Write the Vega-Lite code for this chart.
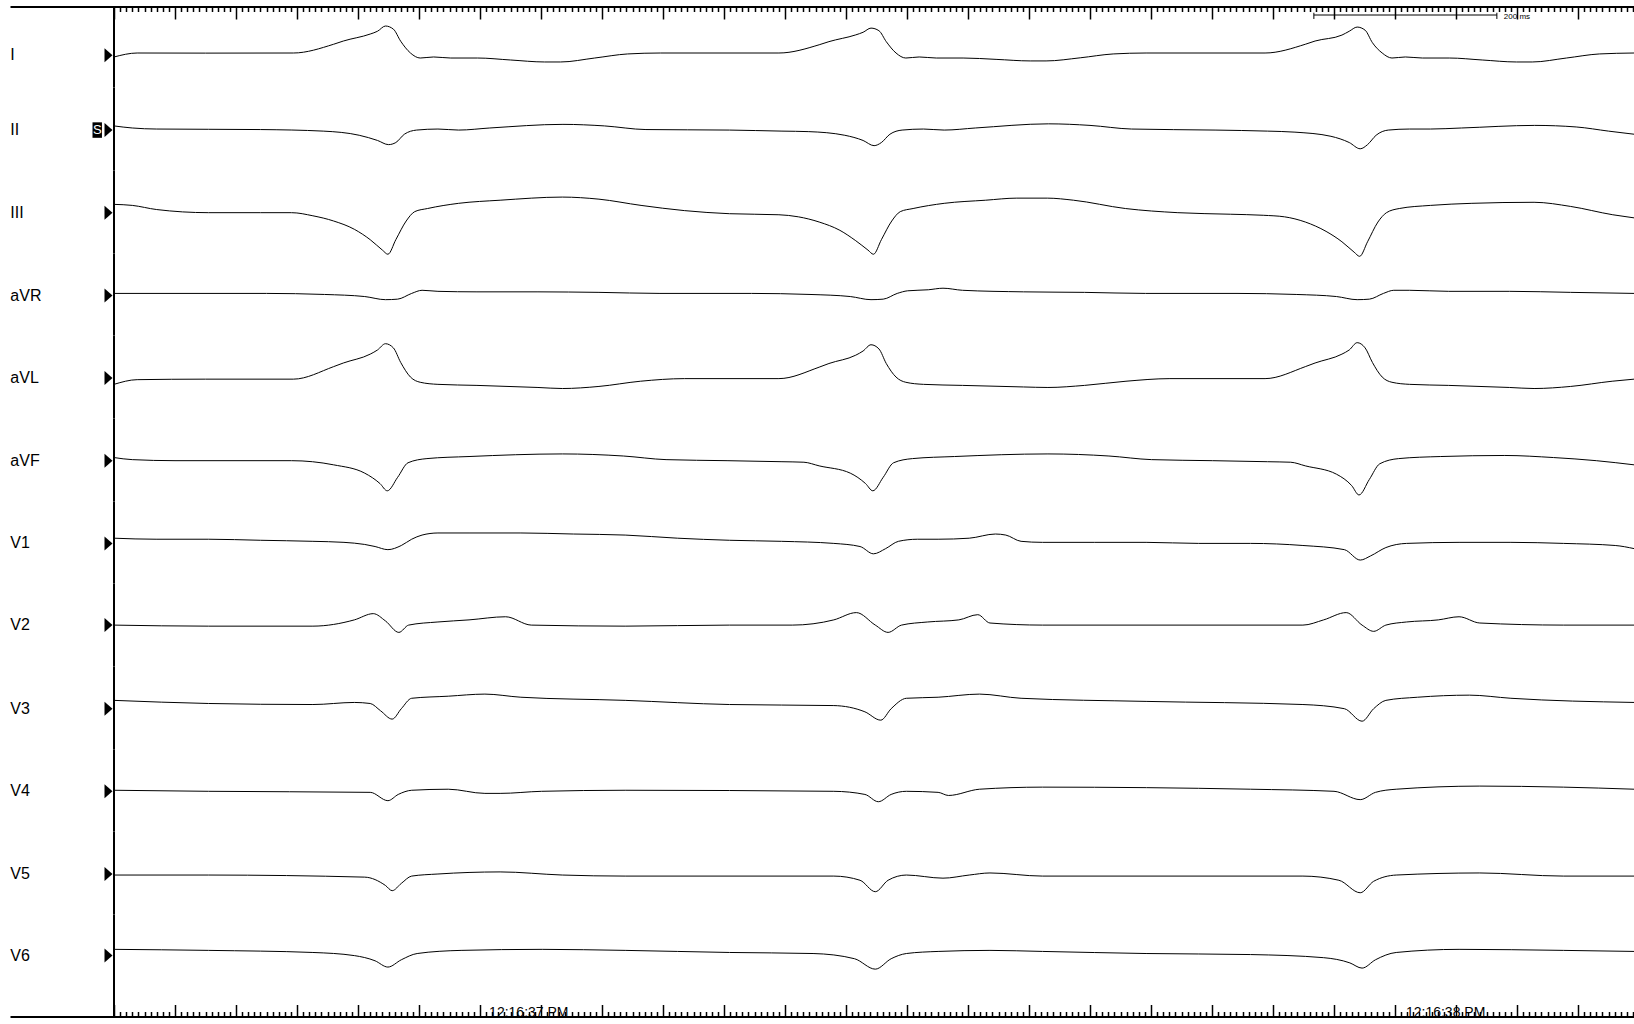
{
"$schema": "https://vega.github.io/schema/vega-lite/v6.json",
"background": "white",
"padding": {"left": 10, "top": 5.5, "right": 0, "bottom": 0},
"spacing": 0,
"bounds": "flush",
"resolve": {"scale": {"x": "independent", "y": "independent"}},
"config": {"view": {"stroke": null}, "text": {"font": "Liberation Sans"}},
"datasets": {
"I": [{"t":0,"v":-1.7},{"t":3.8,"v":2.1},{"t":15,"v":2},{"t":29.4,"v":2.1},{"t":36.0,"v":10.5},{"t":37.6,"v":13.6},{"t":42.0,"v":20.3},{"t":43.2,"v":23},{"t":44.5,"v":28},{"t":45.8,"v":25},{"t":47.0,"v":13.4},{"t":48.6,"v":2.1},{"t":50.2,"v":-2.7},{"t":52.4,"v":-1.7},{"t":55.2,"v":-2.7},{"t":59.6,"v":-2.7},{"t":65.0,"v":-4.6},{"t":70.6,"v":-6.5},{"t":73.2,"v":-6.5},{"t":78.8,"v":-2.7},{"t":84.2,"v":1.2},{"t":89.6,"v":2.1},{"t":109.0,"v":2.1},{"t":115.6,"v":10},{"t":117.2,"v":13},{"t":121.6,"v":19.5},{"t":122.8,"v":22},{"t":124.1,"v":26},{"t":125.4,"v":23.5},{"t":126.6,"v":13},{"t":128.2,"v":2.1},{"t":129.8,"v":-2.7},{"t":132.0,"v":-1.7},{"t":134.8,"v":-2.7},{"t":139.2,"v":-2.7},{"t":144.6,"v":-4},{"t":150.2,"v":-5.5},{"t":152.8,"v":-5.5},{"t":158.4,"v":-2.5},{"t":163.8,"v":1.2},{"t":169.2,"v":2.1},{"t":188.7,"v":2.1},{"t":195.3,"v":10.5},{"t":196.9,"v":13.6},{"t":201.3,"v":19.3},{"t":202.5,"v":23},{"t":203.8,"v":27},{"t":205.1,"v":24},{"t":206.3,"v":12},{"t":207.9,"v":2.1},{"t":209.5,"v":-2.7},{"t":211.7,"v":-1.7},{"t":214.5,"v":-2.7},{"t":218.9,"v":-2.7},{"t":224.3,"v":-4.6},{"t":229.9,"v":-6.5},{"t":232.5,"v":-6.5},{"t":238.1,"v":-2.7},{"t":243.5,"v":1.2},{"t":249.2,"v":2.1}],
"II": [{"t":0,"v":4},{"t":3,"v":2},{"t":7,"v":1},{"t":24,"v":0.5},{"t":34.3,"v":-1},{"t":40.2,"v":-5},{"t":43.2,"v":-10},{"t":45.0,"v":-14},{"t":46.2,"v":-12},{"t":47.6,"v":-4},{"t":49.6,"v":0},{"t":53.1,"v":1},{"t":56.5,"v":0},{"t":61.6,"v":2},{"t":73.6,"v":5.5},{"t":80.4,"v":4},{"t":87.2,"v":0.5},{"t":100.9,"v":0},{"t":109.5,"v":-1},{"t":113.9,"v":-1.5},{"t":119.8,"v":-5},{"t":122.8,"v":-10},{"t":124.6,"v":-15},{"t":125.8,"v":-12},{"t":127.2,"v":-4},{"t":129.2,"v":0},{"t":132.7,"v":1},{"t":136.1,"v":0},{"t":141.2,"v":2},{"t":153.2,"v":6},{"t":160,"v":4.5},{"t":166.8,"v":1},{"t":180.5,"v":0},{"t":189.1,"v":-1},{"t":193.6,"v":-2},{"t":199.5,"v":-6},{"t":202.5,"v":-12},{"t":204.3,"v":-18},{"t":205.5,"v":-14},{"t":206.9,"v":-5},{"t":208.9,"v":0},{"t":212.4,"v":1},{"t":215.8,"v":1},{"t":220.9,"v":2},{"t":232.9,"v":4.5},{"t":239.7,"v":3},{"t":245,"v":-1},{"t":249.2,"v":-4}],
"III": [{"t":0,"v":8},{"t":3,"v":7},{"t":7,"v":3},{"t":15.5,"v":0},{"t":24,"v":0},{"t":29.1,"v":0},{"t":32.6,"v":-3},{"t":36.0,"v":-8},{"t":39.4,"v":-16},{"t":42.0,"v":-26},{"t":44.0,"v":-36},{"t":44.9,"v":-40},{"t":46.2,"v":-26},{"t":47.9,"v":-8},{"t":49.3,"v":1},{"t":51.4,"v":4},{"t":56.5,"v":9},{"t":63.3,"v":12},{"t":73.5,"v":15},{"t":79.5,"v":13},{"t":86.4,"v":7},{"t":93.5,"v":2},{"t":100.9,"v":-1},{"t":109,"v":-2},{"t":112.2,"v":-4},{"t":115.6,"v":-9},{"t":119.0,"v":-17},{"t":121.6,"v":-27},{"t":123.6,"v":-36},{"t":124.5,"v":-40},{"t":125.8,"v":-26},{"t":127.5,"v":-8},{"t":128.9,"v":1},{"t":131.0,"v":4},{"t":136.1,"v":9},{"t":142.9,"v":12},{"t":148,"v":14},{"t":153,"v":14},{"t":157.3,"v":12},{"t":165.8,"v":4},{"t":174.4,"v":0},{"t":183,"v":-1.5},{"t":188.4,"v":-2.5},{"t":191.9,"v":-4},{"t":195.3,"v":-9},{"t":198.7,"v":-18},{"t":201.3,"v":-28},{"t":203.3,"v":-38},{"t":204.2,"v":-42},{"t":205.5,"v":-28},{"t":207.2,"v":-9},{"t":208.6,"v":0},{"t":210.7,"v":4},{"t":215.8,"v":7},{"t":222.6,"v":9},{"t":232.8,"v":10},{"t":238.8,"v":6},{"t":245.7,"v":-2},{"t":249.2,"v":-5}],
"aVR": [{"t":0,"v":2},{"t":10,"v":2},{"t":25,"v":2},{"t":34.5,"v":1},{"t":41.1,"v":-1},{"t":44.5,"v":-4},{"t":46.5,"v":-3.5},{"t":48.8,"v":2},{"t":50.5,"v":5},{"t":53.1,"v":4},{"t":59.5,"v":3.5},{"t":69.5,"v":3.5},{"t":79.5,"v":3},{"t":89.5,"v":2},{"t":104.5,"v":2},{"t":114.1,"v":1},{"t":120.7,"v":-1},{"t":124.1,"v":-4},{"t":126.1,"v":-3.5},{"t":128.4,"v":2},{"t":130.1,"v":4.5},{"t":133.5,"v":5.5},{"t":135.9,"v":7},{"t":139.1,"v":5},{"t":149.1,"v":3.5},{"t":159.1,"v":3},{"t":169.1,"v":2},{"t":184.1,"v":2},{"t":193.8,"v":1},{"t":200.4,"v":-1},{"t":203.8,"v":-4},{"t":205.8,"v":-3.5},{"t":208.1,"v":2},{"t":209.8,"v":5},{"t":212.4,"v":5},{"t":218.8,"v":4},{"t":228.8,"v":4},{"t":238.8,"v":3},{"t":249.2,"v":2}],
"aVL": [{"t":0,"v":-6},{"t":3.8,"v":-1.5},{"t":15,"v":-1},{"t":29.4,"v":-1},{"t":36.0,"v":11},{"t":37.6,"v":14.5},{"t":42.0,"v":23},{"t":43.2,"v":27},{"t":44.5,"v":33},{"t":45.8,"v":29},{"t":47.0,"v":15},{"t":48.6,"v":1},{"t":50.2,"v":-4},{"t":53.1,"v":-6},{"t":59.5,"v":-7},{"t":69.5,"v":-9},{"t":73.5,"v":-10},{"t":79.5,"v":-8},{"t":86.3,"v":-3},{"t":93.5,"v":-0.5},{"t":109.0,"v":-0.5},{"t":115.6,"v":10.5},{"t":117.2,"v":14},{"t":121.6,"v":22},{"t":122.8,"v":26},{"t":124.1,"v":32},{"t":125.4,"v":28},{"t":126.6,"v":14},{"t":128.2,"v":1},{"t":129.8,"v":-4},{"t":132.7,"v":-6},{"t":139.1,"v":-7},{"t":149.1,"v":-8.5},{"t":153.1,"v":-9},{"t":159.1,"v":-7},{"t":165.9,"v":-3},{"t":173.1,"v":-0.5},{"t":188.7,"v":-0.5},{"t":195.3,"v":11},{"t":196.9,"v":14.5},{"t":201.3,"v":23},{"t":202.5,"v":27},{"t":203.8,"v":34},{"t":205.1,"v":29},{"t":206.3,"v":15},{"t":207.9,"v":1},{"t":209.5,"v":-4},{"t":212.4,"v":-6},{"t":218.8,"v":-7},{"t":228.8,"v":-9},{"t":232.8,"v":-10},{"t":238.8,"v":-8},{"t":245.6,"v":-3},{"t":249.2,"v":-1}],
"aVF": [{"t":0,"v":3},{"t":3,"v":1},{"t":10,"v":0},{"t":29.1,"v":0},{"t":36.0,"v":-4},{"t":41.1,"v":-12},{"t":43.6,"v":-22},{"t":44.8,"v":-29},{"t":46.5,"v":-16},{"t":48.2,"v":-2},{"t":51.3,"v":2},{"t":58.2,"v":4},{"t":73.5,"v":6.5},{"t":83.5,"v":4.5},{"t":90.5,"v":1},{"t":100.5,"v":0},{"t":109.5,"v":-1},{"t":113.1,"v":-1.5},{"t":115.6,"v":-5},{"t":120.7,"v":-12},{"t":123.2,"v":-22},{"t":124.4,"v":-29},{"t":126.1,"v":-16},{"t":127.8,"v":-2},{"t":130.9,"v":2},{"t":137.8,"v":4},{"t":153.1,"v":6.5},{"t":163.1,"v":4.5},{"t":170.1,"v":1},{"t":180.1,"v":0},{"t":189.1,"v":-1},{"t":192.9,"v":-1.5},{"t":195.3,"v":-5},{"t":200.4,"v":-13},{"t":202.9,"v":-24},{"t":204.1,"v":-33},{"t":205.8,"v":-18},{"t":207.5,"v":-3},{"t":210.6,"v":2},{"t":217.5,"v":4},{"t":228,"v":5},{"t":236,"v":3},{"t":243,"v":0},{"t":249.2,"v":-4}],
"V1": [{"t":0,"v":5},{"t":6.9,"v":4},{"t":15.5,"v":4},{"t":24.0,"v":3},{"t":32.6,"v":2},{"t":37.7,"v":1},{"t":41.1,"v":-1},{"t":42.8,"v":-3},{"t":44.9,"v":-6},{"t":47.1,"v":-2},{"t":48.8,"v":4},{"t":50.5,"v":8},{"t":53.1,"v":10},{"t":58.2,"v":10},{"t":66.7,"v":10},{"t":75.3,"v":9},{"t":83.8,"v":8},{"t":92.4,"v":5},{"t":100.9,"v":3},{"t":109.4,"v":2},{"t":118.0,"v":0},{"t":122.3,"v":-3},{"t":124.5,"v":-10},{"t":126.5,"v":-5},{"t":128.6,"v":2},{"t":131.7,"v":4},{"t":135.1,"v":4},{"t":140.2,"v":5},{"t":144.5,"v":9},{"t":146.2,"v":8},{"t":148.7,"v":2},{"t":152.2,"v":1},{"t":160.7,"v":1},{"t":169.2,"v":1},{"t":177.8,"v":0},{"t":186.3,"v":0},{"t":194.9,"v":-2},{"t":201.7,"v":-6},{"t":204.3,"v":-16},{"t":206.0,"v":-12},{"t":208.5,"v":-4},{"t":211.9,"v":0},{"t":220.5,"v":1},{"t":229.0,"v":1},{"t":237.6,"v":0},{"t":246.1,"v":-2},{"t":249.2,"v":-5}],
"V2": [{"t":0,"v":0},{"t":15.5,"v":-1},{"t":32.6,"v":-1},{"t":39.4,"v":5},{"t":42.5,"v":11},{"t":44.5,"v":4},{"t":46.7,"v":-7},{"t":48.3,"v":0},{"t":53.1,"v":3},{"t":58.2,"v":5},{"t":64.2,"v":8},{"t":68.4,"v":0},{"t":83.8,"v":-1},{"t":100.9,"v":0},{"t":111.2,"v":0},{"t":118.0,"v":5},{"t":121.7,"v":12},{"t":124.8,"v":0},{"t":126.9,"v":-7},{"t":129.1,"v":0},{"t":133.4,"v":3},{"t":138.5,"v":5},{"t":141.6,"v":10},{"t":143.6,"v":2},{"t":152.2,"v":0},{"t":194.9,"v":0},{"t":198.3,"v":5},{"t":202.0,"v":12},{"t":204.6,"v":0},{"t":206.5,"v":-6},{"t":208.5,"v":0},{"t":211.9,"v":3},{"t":217.1,"v":5},{"t":220.5,"v":8},{"t":223.9,"v":2},{"t":237.6,"v":0},{"t":249.2,"v":0}],
"V3": [{"t":0,"v":8},{"t":15.5,"v":5},{"t":32.6,"v":4},{"t":39.4,"v":6},{"t":42.0,"v":5},{"t":43.7,"v":-2},{"t":45.6,"v":-10},{"t":47.1,"v":0},{"t":48.8,"v":10},{"t":54.8,"v":12},{"t":60.8,"v":14},{"t":66.7,"v":11},{"t":83.8,"v":8},{"t":100.9,"v":4},{"t":118.0,"v":3},{"t":123.1,"v":-3},{"t":125.7,"v":-11},{"t":127.4,"v":0},{"t":129.9,"v":10},{"t":135.1,"v":11},{"t":141.9,"v":14},{"t":148.7,"v":10},{"t":169.2,"v":7},{"t":194.9,"v":4},{"t":201.7,"v":0},{"t":204.6,"v":-12},{"t":206.5,"v":0},{"t":208.5,"v":8},{"t":213.7,"v":11},{"t":222.2,"v":13},{"t":229.0,"v":10},{"t":249.2,"v":6}],
"V4": [{"t":0,"v":1},{"t":15.5,"v":0},{"t":42.0,"v":-1},{"t":44.9,"v":-9},{"t":46.6,"v":-3},{"t":48.8,"v":1},{"t":54.8,"v":2},{"t":60.8,"v":-2},{"t":63.3,"v":-2},{"t":70.1,"v":0},{"t":83.8,"v":1},{"t":118.0,"v":0},{"t":123.1,"v":-3},{"t":125.3,"v":-10},{"t":127.4,"v":-3},{"t":129.9,"v":0},{"t":135.1,"v":-1},{"t":136.8,"v":-4},{"t":141.9,"v":2},{"t":152.2,"v":4},{"t":186.3,"v":2},{"t":200.0,"v":0},{"t":204.3,"v":-8},{"t":206.8,"v":-1},{"t":210.2,"v":2},{"t":223.9,"v":5},{"t":237.6,"v":4},{"t":249.2,"v":2}],
"V5": [{"t":0,"v":-1},{"t":15.5,"v":-1},{"t":41.1,"v":-3},{"t":44.5,"v":-11},{"t":45.6,"v":-16},{"t":47.1,"v":-9},{"t":48.8,"v":-2},{"t":53.1,"v":0},{"t":63.3,"v":2},{"t":73.5,"v":-1},{"t":83.8,"v":-2},{"t":118.0,"v":-2},{"t":122.3,"v":-6},{"t":124.8,"v":-17},{"t":126.9,"v":-6},{"t":129.9,"v":-1},{"t":135.9,"v":-4},{"t":140.2,"v":-1},{"t":143.6,"v":1},{"t":152.2,"v":-2},{"t":194.9,"v":-2},{"t":200.8,"v":-6},{"t":204.3,"v":-18},{"t":206.5,"v":-7},{"t":210.2,"v":-1},{"t":223.9,"v":1},{"t":237.6,"v":-2},{"t":249.2,"v":-2}],
"V6": [{"t":0,"v":6},{"t":15.5,"v":5},{"t":32.6,"v":3},{"t":39.4,"v":0},{"t":42.8,"v":-5},{"t":44.9,"v":-11},{"t":47.1,"v":-4},{"t":49.7,"v":2},{"t":56.9,"v":5},{"t":70.2,"v":6},{"t":83.8,"v":5},{"t":100.9,"v":3},{"t":114.6,"v":2},{"t":121.4,"v":-3},{"t":124.8,"v":-13},{"t":127.4,"v":-3},{"t":129.9,"v":2},{"t":135.1,"v":4},{"t":143.6,"v":5},{"t":152.2,"v":4},{"t":169.2,"v":2},{"t":186.3,"v":1},{"t":198.3,"v":-2},{"t":202.6,"v":-7},{"t":204.6,"v":-12},{"t":206.8,"v":-4},{"t":210.2,"v":3},{"t":220.5,"v":6},{"t":237.6,"v":5},{"t":249.2,"v":4}],
"scalebar": [{"t0": 196.7, "t1": 226.7, "label": "200 ms"}],
"stamps": [{"t": 68.0, "label": "12:16:37 PM"}, {"t": 218.3, "label": "12:16:38 PM"}]
},
"vconcat": [
{"width": 1624, "height": 81, "layer": [
 {"data": {"name": "I"}, "mark": {"type": "line", "color": "black", "strokeWidth": 1, "interpolate": "monotone", "clip": false},
  "encoding": {"x": {"field": "t", "type": "quantitative", "scale": {"domain": [-17.05, 249.18], "nice": false, "zero": false},
     "axis": {"orient": "top", "labels": false, "title": null, "grid": false, "domainColor": "black", "domainWidth": 2, "tickColor": "black", "tickWidth": 1.5, "tickCount": 300,
       "tickSize": {"condition": {"test": "datum.value % 10 === 0", "value": -12.5}, "value": -5},
       "tickOpacity": {"condition": {"test": "datum.value < 0", "value": 0}, "value": 1}}},
   "y": {"field": "v", "type": "quantitative", "scale": {"domain": [-30.99, 46.73], "nice": false, "zero": false}, "axis": null}}},
 {"data": {"values": [{"lead": "I"}]}, "mark": {"type": "text", "align": "left", "baseline": "middle", "fontSize": 16, "color": "black"}, "encoding": {"x": {"datum": -17.0}, "y": {"datum": 0}, "text": {"field": "lead"}}},
 {"data": {"values": [{"lead": "I"}]}, "mark": {"type": "point", "shape": "M -0.57 -1 L 0.57 0 L -0.57 1 Z", "filled": true, "color": "black", "size": 196, "opacity": 1}, "encoding": {"x": {"datum": -0.9}, "y": {"datum": 0}}},
 {"data": {"values": [{"lead": "I"}]}, "mark": {"type": "rule", "color": "black", "strokeWidth": 2}, "encoding": {"x": {"datum": 0}}},
 {"data": {"name": "scalebar"}, "mark": {"type": "rule", "color": "black", "strokeWidth": 1}, "encoding": {"x": {"field": "t0", "type": "quantitative"}, "x2": {"field": "t1"}, "y": {"datum": 38.56}}},
 {"data": {"name": "scalebar"}, "mark": {"type": "rule", "color": "black", "strokeWidth": 1}, "encoding": {"x": {"field": "t0", "type": "quantitative"}, "y": {"datum": 40.76}, "y2": {"datum": 34.76}}},
 {"data": {"name": "scalebar"}, "mark": {"type": "rule", "color": "black", "strokeWidth": 1}, "encoding": {"x": {"field": "t1", "type": "quantitative"}, "y": {"datum": 40.76}, "y2": {"datum": 34.76}}},
 {"data": {"name": "scalebar"}, "mark": {"type": "text", "align": "left", "baseline": "middle", "fontSize": 8, "dx": 7, "color": "black"}, "encoding": {"x": {"field": "t1", "type": "quantitative"}, "y": {"datum": 36.66}, "text": {"field": "label"}}}
]},
{"width": 1624, "height": 83, "layer": [
 {"data": {"name": "II"}, "mark": {"type": "line", "color": "black", "strokeWidth": 1, "interpolate": "monotone", "clip": false},
  "encoding": {"x": {"field": "t", "type": "quantitative", "scale": {"domain": [-17.05, 249.18], "nice": false, "zero": false}, "axis": null},
   "y": {"field": "v", "type": "quantitative", "scale": {"domain": [-38.91, 40.98], "nice": false, "zero": false}, "axis": null}}},
 {"data": {"values": [{"lead": "II", "sign": "S"}]}, "mark": {"type": "text", "align": "left", "baseline": "middle", "fontSize": 16, "color": "black"}, "encoding": {"x": {"datum": -17.0}, "y": {"datum": 0}, "text": {"field": "lead"}}},
 {"data": {"values": [{"lead": "II", "sign": "S"}]}, "mark": {"type": "point", "shape": "M -0.61 -1 L 0.61 -1 L 0.61 1 L -0.61 1 Z", "filled": true, "color": "black", "size": 240, "opacity": 1}, "encoding": {"x": {"datum": -2.75}, "y": {"datum": 0}}},
 {"data": {"values": [{"lead": "II", "sign": "S"}]}, "mark": {"type": "text", "align": "center", "baseline": "middle", "fontSize": 13, "color": "white"}, "encoding": {"x": {"datum": -2.75}, "y": {"datum": 0}, "text": {"field": "sign"}}},
 {"data": {"values": [{"lead": "II"}]}, "mark": {"type": "point", "shape": "M -0.57 -1 L 0.57 0 L -0.57 1 Z", "filled": true, "color": "black", "size": 196, "opacity": 1}, "encoding": {"x": {"datum": -0.9}, "y": {"datum": 0}}},
 {"data": {"values": [{"lead": "II"}]}, "mark": {"type": "rule", "color": "black", "strokeWidth": 2}, "encoding": {"x": {"datum": 0}}}
]},
{"width": 1624, "height": 83, "layer": [
 {"data": {"name": "III"}, "mark": {"type": "line", "color": "black", "strokeWidth": 1, "interpolate": "monotone", "clip": false},
  "encoding": {"x": {"field": "t", "type": "quantitative", "scale": {"domain": [-17.05, 249.18], "nice": false, "zero": false}, "axis": null},
   "y": {"field": "v", "type": "quantitative", "scale": {"domain": [-39.29, 40.59], "nice": false, "zero": false}, "axis": null}}},
 {"data": {"values": [{"lead": "III"}]}, "mark": {"type": "text", "align": "left", "baseline": "middle", "fontSize": 16, "color": "black"}, "encoding": {"x": {"datum": -17.0}, "y": {"datum": 0}, "text": {"field": "lead"}}},
 {"data": {"values": [{"lead": "III"}]}, "mark": {"type": "point", "shape": "M -0.57 -1 L 0.57 0 L -0.57 1 Z", "filled": true, "color": "black", "size": 196, "opacity": 1}, "encoding": {"x": {"datum": -0.9}, "y": {"datum": 0}}},
 {"data": {"values": [{"lead": "III"}]}, "mark": {"type": "rule", "color": "black", "strokeWidth": 2}, "encoding": {"x": {"datum": 0}}}
]},
{"width": 1624, "height": 82, "layer": [
 {"data": {"name": "aVR"}, "mark": {"type": "line", "color": "black", "strokeWidth": 1, "interpolate": "monotone", "clip": false},
  "encoding": {"x": {"field": "t", "type": "quantitative", "scale": {"domain": [-17.05, 249.18], "nice": false, "zero": false}, "axis": null},
   "y": {"field": "v", "type": "quantitative", "scale": {"domain": [-38.38, 40.3], "nice": false, "zero": false}, "axis": null}}},
 {"data": {"values": [{"lead": "aVR"}]}, "mark": {"type": "text", "align": "left", "baseline": "middle", "fontSize": 16, "color": "black"}, "encoding": {"x": {"datum": -17.0}, "y": {"datum": 0}, "text": {"field": "lead"}}},
 {"data": {"values": [{"lead": "aVR"}]}, "mark": {"type": "point", "shape": "M -0.57 -1 L 0.57 0 L -0.57 1 Z", "filled": true, "color": "black", "size": 196, "opacity": 1}, "encoding": {"x": {"datum": -0.9}, "y": {"datum": 0}}},
 {"data": {"values": [{"lead": "aVR"}]}, "mark": {"type": "rule", "color": "black", "strokeWidth": 2}, "encoding": {"x": {"datum": 0}}}
]},
{"width": 1624, "height": 83, "layer": [
 {"data": {"name": "aVL"}, "mark": {"type": "line", "color": "black", "strokeWidth": 1, "interpolate": "monotone", "clip": false},
  "encoding": {"x": {"field": "t", "type": "quantitative", "scale": {"domain": [-17.05, 249.18], "nice": false, "zero": false}, "axis": null},
   "y": {"field": "v", "type": "quantitative", "scale": {"domain": [-38.77, 40.88], "nice": false, "zero": false}, "axis": null}}},
 {"data": {"values": [{"lead": "aVL"}]}, "mark": {"type": "text", "align": "left", "baseline": "middle", "fontSize": 16, "color": "black"}, "encoding": {"x": {"datum": -17.0}, "y": {"datum": 0}, "text": {"field": "lead"}}},
 {"data": {"values": [{"lead": "aVL"}]}, "mark": {"type": "point", "shape": "M -0.57 -1 L 0.57 0 L -0.57 1 Z", "filled": true, "color": "black", "size": 196, "opacity": 1}, "encoding": {"x": {"datum": -0.9}, "y": {"datum": 0}}},
 {"data": {"values": [{"lead": "aVL"}]}, "mark": {"type": "rule", "color": "black", "strokeWidth": 2}, "encoding": {"x": {"datum": 0}}}
]},
{"width": 1624, "height": 83, "layer": [
 {"data": {"name": "aVF"}, "mark": {"type": "line", "color": "black", "strokeWidth": 1, "interpolate": "monotone", "clip": false},
  "encoding": {"x": {"field": "t", "type": "quantitative", "scale": {"domain": [-17.05, 249.18], "nice": false, "zero": false}, "axis": null},
   "y": {"field": "v", "type": "quantitative", "scale": {"domain": [-39.29, 40.59], "nice": false, "zero": false}, "axis": null}}},
 {"data": {"values": [{"lead": "aVF"}]}, "mark": {"type": "text", "align": "left", "baseline": "middle", "fontSize": 16, "color": "black"}, "encoding": {"x": {"datum": -17.0}, "y": {"datum": 0}, "text": {"field": "lead"}}},
 {"data": {"values": [{"lead": "aVF"}]}, "mark": {"type": "point", "shape": "M -0.57 -1 L 0.57 0 L -0.57 1 Z", "filled": true, "color": "black", "size": 196, "opacity": 1}, "encoding": {"x": {"datum": -0.9}, "y": {"datum": 0}}},
 {"data": {"values": [{"lead": "aVF"}]}, "mark": {"type": "rule", "color": "black", "strokeWidth": 2}, "encoding": {"x": {"datum": 0}}}
]},
{"width": 1624, "height": 82, "layer": [
 {"data": {"name": "V1"}, "mark": {"type": "line", "color": "black", "strokeWidth": 1, "interpolate": "monotone", "clip": false},
  "encoding": {"x": {"field": "t", "type": "quantitative", "scale": {"domain": [-17.05, 249.18], "nice": false, "zero": false}, "axis": null},
   "y": {"field": "v", "type": "quantitative", "scale": {"domain": [-38.48, 40.21], "nice": false, "zero": false}, "axis": null}}},
 {"data": {"values": [{"lead": "V1"}]}, "mark": {"type": "text", "align": "left", "baseline": "middle", "fontSize": 16, "color": "black"}, "encoding": {"x": {"datum": -17.0}, "y": {"datum": 0}, "text": {"field": "lead"}}},
 {"data": {"values": [{"lead": "V1"}]}, "mark": {"type": "point", "shape": "M -0.57 -1 L 0.57 0 L -0.57 1 Z", "filled": true, "color": "black", "size": 196, "opacity": 1}, "encoding": {"x": {"datum": -0.9}, "y": {"datum": 0}}},
 {"data": {"values": [{"lead": "V1"}]}, "mark": {"type": "rule", "color": "black", "strokeWidth": 2}, "encoding": {"x": {"datum": 0}}}
]},
{"width": 1624, "height": 83, "layer": [
 {"data": {"name": "V2"}, "mark": {"type": "line", "color": "black", "strokeWidth": 1, "interpolate": "monotone", "clip": false},
  "encoding": {"x": {"field": "t", "type": "quantitative", "scale": {"domain": [-17.05, 249.18], "nice": false, "zero": false}, "axis": null},
   "y": {"field": "v", "type": "quantitative", "scale": {"domain": [-39.73, 39.92], "nice": false, "zero": false}, "axis": null}}},
 {"data": {"values": [{"lead": "V2"}]}, "mark": {"type": "text", "align": "left", "baseline": "middle", "fontSize": 16, "color": "black"}, "encoding": {"x": {"datum": -17.0}, "y": {"datum": 0}, "text": {"field": "lead"}}},
 {"data": {"values": [{"lead": "V2"}]}, "mark": {"type": "point", "shape": "M -0.57 -1 L 0.57 0 L -0.57 1 Z", "filled": true, "color": "black", "size": 196, "opacity": 1}, "encoding": {"x": {"datum": -0.9}, "y": {"datum": 0}}},
 {"data": {"values": [{"lead": "V2"}]}, "mark": {"type": "rule", "color": "black", "strokeWidth": 2}, "encoding": {"x": {"datum": 0}}}
]},
{"width": 1624, "height": 83, "layer": [
 {"data": {"name": "V3"}, "mark": {"type": "line", "color": "black", "strokeWidth": 1, "interpolate": "monotone", "clip": false},
  "encoding": {"x": {"field": "t", "type": "quantitative", "scale": {"domain": [-17.05, 249.18], "nice": false, "zero": false}, "axis": null},
   "y": {"field": "v", "type": "quantitative", "scale": {"domain": [-39.15, 40.49], "nice": false, "zero": false}, "axis": null}}},
 {"data": {"values": [{"lead": "V3"}]}, "mark": {"type": "text", "align": "left", "baseline": "middle", "fontSize": 16, "color": "black"}, "encoding": {"x": {"datum": -17.0}, "y": {"datum": 0}, "text": {"field": "lead"}}},
 {"data": {"values": [{"lead": "V3"}]}, "mark": {"type": "point", "shape": "M -0.57 -1 L 0.57 0 L -0.57 1 Z", "filled": true, "color": "black", "size": 196, "opacity": 1}, "encoding": {"x": {"datum": -0.9}, "y": {"datum": 0}}},
 {"data": {"values": [{"lead": "V3"}]}, "mark": {"type": "rule", "color": "black", "strokeWidth": 2}, "encoding": {"x": {"datum": 0}}}
]},
{"width": 1624, "height": 82, "layer": [
 {"data": {"name": "V4"}, "mark": {"type": "line", "color": "black", "strokeWidth": 1, "interpolate": "monotone", "clip": false},
  "encoding": {"x": {"field": "t", "type": "quantitative", "scale": {"domain": [-17.05, 249.18], "nice": false, "zero": false}, "axis": null},
   "y": {"field": "v", "type": "quantitative", "scale": {"domain": [-38.57, 40.11], "nice": false, "zero": false}, "axis": null}}},
 {"data": {"values": [{"lead": "V4"}]}, "mark": {"type": "text", "align": "left", "baseline": "middle", "fontSize": 16, "color": "black"}, "encoding": {"x": {"datum": -17.0}, "y": {"datum": 0}, "text": {"field": "lead"}}},
 {"data": {"values": [{"lead": "V4"}]}, "mark": {"type": "point", "shape": "M -0.57 -1 L 0.57 0 L -0.57 1 Z", "filled": true, "color": "black", "size": 196, "opacity": 1}, "encoding": {"x": {"datum": -0.9}, "y": {"datum": 0}}},
 {"data": {"values": [{"lead": "V4"}]}, "mark": {"type": "rule", "color": "black", "strokeWidth": 2}, "encoding": {"x": {"datum": 0}}}
]},
{"width": 1624, "height": 83, "layer": [
 {"data": {"name": "V5"}, "mark": {"type": "line", "color": "black", "strokeWidth": 1, "interpolate": "monotone", "clip": false},
  "encoding": {"x": {"field": "t", "type": "quantitative", "scale": {"domain": [-17.05, 249.18], "nice": false, "zero": false}, "axis": null},
   "y": {"field": "v", "type": "quantitative", "scale": {"domain": [-38.86, 40.78], "nice": false, "zero": false}, "axis": null}}},
 {"data": {"values": [{"lead": "V5"}]}, "mark": {"type": "text", "align": "left", "baseline": "middle", "fontSize": 16, "color": "black"}, "encoding": {"x": {"datum": -17.0}, "y": {"datum": 0}, "text": {"field": "lead"}}},
 {"data": {"values": [{"lead": "V5"}]}, "mark": {"type": "point", "shape": "M -0.57 -1 L 0.57 0 L -0.57 1 Z", "filled": true, "color": "black", "size": 196, "opacity": 1}, "encoding": {"x": {"datum": -0.9}, "y": {"datum": 0}}},
 {"data": {"values": [{"lead": "V5"}]}, "mark": {"type": "rule", "color": "black", "strokeWidth": 2}, "encoding": {"x": {"datum": 0}}}
]},
{"width": 1624, "height": 102, "layer": [
 {"data": {"name": "V6"}, "mark": {"type": "line", "color": "black", "strokeWidth": 1, "interpolate": "monotone", "clip": false},
  "encoding": {"x": {"field": "t", "type": "quantitative", "scale": {"domain": [-17.05, 249.18], "nice": false, "zero": false},
     "axis": {"orient": "bottom", "labels": false, "title": null, "grid": false, "domainColor": "black", "domainWidth": 2, "tickColor": "black", "tickWidth": 1.5, "tickCount": 300,
       "tickSize": {"condition": {"test": "datum.value % 10 === 0", "value": -12}, "value": -5},
       "tickOpacity": {"condition": {"test": "datum.value < 0", "value": 0}, "value": 1}}},
   "y": {"field": "v", "type": "quantitative", "scale": {"domain": [-58.44, 39.44], "nice": false, "zero": false}, "axis": null}}},
 {"data": {"values": [{"lead": "V6"}]}, "mark": {"type": "text", "align": "left", "baseline": "middle", "fontSize": 16, "color": "black"}, "encoding": {"x": {"datum": -17.0}, "y": {"datum": 0}, "text": {"field": "lead"}}},
 {"data": {"values": [{"lead": "V6"}]}, "mark": {"type": "point", "shape": "M -0.57 -1 L 0.57 0 L -0.57 1 Z", "filled": true, "color": "black", "size": 196, "opacity": 1}, "encoding": {"x": {"datum": -0.9}, "y": {"datum": 0}}},
 {"data": {"values": [{"lead": "V6"}]}, "mark": {"type": "rule", "color": "black", "strokeWidth": 2}, "encoding": {"x": {"datum": 0}}},
 {"data": {"name": "stamps"}, "mark": {"type": "text", "align": "center", "baseline": "alphabetic", "fontSize": 14, "color": "black"}, "encoding": {"x": {"field": "t", "type": "quantitative"}, "y": {"datum": -58.44}, "text": {"field": "label"}}}
]}
]
}
